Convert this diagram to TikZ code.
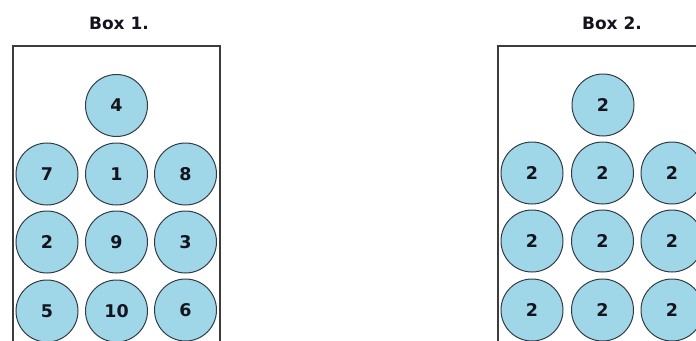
\documentclass[tikz,border=0pt]{standalone}
\usepackage{fontspec}
\setmainfont{DejaVu Sans}
\definecolor{ballfill}{RGB}{160,215,232}
\definecolor{ballline}{RGB}{50,60,70}
\definecolor{boxline}{RGB}{60,60,60}
\definecolor{numcol}{RGB}{20,20,30}
\tikzset{
  ball/.style={circle, draw=ballline, line width=1pt, fill=ballfill,
    minimum size=62pt, inner sep=0pt, text=numcol,
    font=\fontsize{17.5}{17.5}\selectfont\bfseries},
  boxtitle/.style={font=\fontsize{17}{17}\selectfont\bfseries, text=numcol},
  boxedge/.style={draw=boxline, line width=1.2pt}
}
\begin{document}
\begin{tikzpicture}[x=1pt,y=-1pt]
  \useasboundingbox (0,0) rectangle (696,340);
  \clip (0,0) rectangle (696,340);
  % titles
  \node[boxtitle] (t1) at (119,23) {Box 1.};
  \node[boxtitle] (t2) at (612,23) {Box 2.};
  % box outlines (open at the lower and outer edges)
  \draw[boxedge] (13,350) -- (13,46) -- (220,46) -- (220,350);
  \draw[boxedge] (498,350) -- (498,46) -- (710,46) -- (710,350);
  % box 1 balls
  \node[ball] (a4)  at (116.5,105.5) {4};
  \node[ball] (a7)  at (47,174) {7};
  \node[ball] (a1)  at (116.5,174) {1};
  \node[ball] (a8)  at (185.5,174) {8};
  \node[ball] (a2)  at (47,242) {2};
  \node[ball] (a9)  at (116.5,242) {9};
  \node[ball] (a3)  at (185.5,242) {3};
  \node[ball] (a5)  at (47,311) {5};
  \node[ball] (a10) at (116.5,311) {10};
  \node[ball] (a6)  at (185.5,310) {6};
  % box 2 balls
  \node[ball] (b0)  at (603,105) {2};
  \node[ball] (b1)  at (532,173) {2};
  \node[ball] (b2)  at (602.5,173) {2};
  \node[ball] (b3)  at (672,173) {2};
  \node[ball] (b4)  at (532,241) {2};
  \node[ball] (b5)  at (602.5,241) {2};
  \node[ball] (b6)  at (672,241) {2};
  \node[ball] (b7)  at (532,310) {2};
  \node[ball] (b8)  at (602.5,310) {2};
  \node[ball] (b9)  at (672,310) {2};
\end{tikzpicture}
\end{document}
